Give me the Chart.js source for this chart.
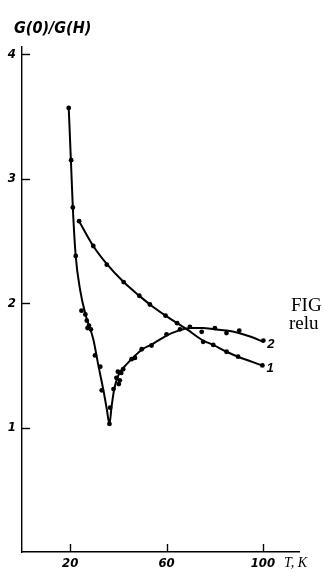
<!DOCTYPE html>
<html>
<head>
<meta charset="utf-8">
<script src="https://cdn.jsdelivr.net/npm/chart.js@4.4.1/dist/chart.umd.min.js"></script>
<style>
html,body{margin:0;padding:0;background:#fff;}
#wrap{position:relative;width:323px;height:577px;}
</style>
</head>
<body>
<div id="wrap"><canvas id="c"></canvas></div>
<script>
// ---- data ----
const xTicks = [20, 60, 100];
const yTicks = [1, 2, 3, 4];
const yTitle = "G(0)/G(H)";
const xTitle = "T, K";
const seriesLabels = ["1", "2"];
const captionLines = ["FIG", "relu"];

// curve 1: smooth line
const curve1T = [23.7, 29.6, 35.0, 42.2, 48.7, 53.1, 59.6, 64.4, 68.5, 75.2, 79.4, 84.9, 89.7, 99.8];
const curve1V = [2.66, 2.46, 2.32, 2.17, 2.06, 1.99, 1.90, 1.84, 1.79, 1.70, 1.665, 1.61, 1.57, 1.50];
// curve 1: measured points
const pts1T = [23.7, 29.6, 35.2, 42.2, 48.7, 53.1, 59.6, 64.4, 75.2, 79.4, 84.9, 89.7, 99.8];
const pts1V = [2.66, 2.46, 2.31, 2.17, 2.06, 1.99, 1.90, 1.84, 1.69, 1.665, 1.61, 1.57, 1.50];

// curve 2: smooth line
const curve2T = [19.4, 20.3, 21.1, 22.3, 24.1, 26.5, 29.6, 31.7, 33.8, 35.2, 36.3, 37.2, 38.3, 40.0, 43.0, 46.5, 50.0, 54.0, 60.0, 65.0, 70.0, 75.0, 80.0, 85.0, 90.0, 95.0, 100.2];
const curve2V = [3.57, 3.15, 2.77, 2.38, 2.11, 1.90, 1.71, 1.50, 1.30, 1.15, 1.03, 1.17, 1.31, 1.42, 1.50, 1.57, 1.63, 1.67, 1.74, 1.78, 1.80, 1.80, 1.79, 1.78, 1.76, 1.73, 1.69];
// curve 2: measured points
const pts2T = [19.4, 20.4, 21.1, 22.3, 24.7, 26.3, 26.9, 27.8, 28.6, 27.2, 30.3, 32.5, 33.1, 36.3, 36.6, 38.0, 39.2, 39.8, 40.6, 41.2, 40.2, 42.0, 45.5, 46.9, 49.7, 53.8, 60.0, 65.6, 69.7, 74.6, 80.1, 84.9, 90.2, 100.2];
const pts2V = [3.57, 3.15, 2.77, 2.38, 1.94, 1.91, 1.86, 1.82, 1.79, 1.80, 1.58, 1.49, 1.30, 1.03, 1.16, 1.31, 1.40, 1.45, 1.38, 1.44, 1.35, 1.47, 1.55, 1.56, 1.63, 1.66, 1.75, 1.79, 1.81, 1.77, 1.80, 1.76, 1.78, 1.70];

const zip = (a, b) => a.map((v, i) => ({x: v, y: b[i]}));

const decor = {
  id: 'decor',
  afterDraw(chart) {
    const ctx = chart.ctx;
    const xs = chart.scales.x, ys = chart.scales.y;
    const ca = chart.chartArea;
    ctx.save();
    ctx.strokeStyle = '#000';
    ctx.lineWidth = 1.4;
    // inward tick marks
    xs.ticks.forEach(t => {
      const px = Math.round(xs.getPixelForValue(t.value)) + 0.5;
      ctx.beginPath(); ctx.moveTo(px, ca.bottom); ctx.lineTo(px, ca.bottom - 8); ctx.stroke();
    });
    ys.ticks.forEach(t => {
      const py = Math.round(ys.getPixelForValue(t.value)) + 0.5;
      ctx.beginPath(); ctx.moveTo(ca.left, py); ctx.lineTo(ca.left + 8, py); ctx.stroke();
    });
    ctx.fillStyle = '#000';
    // y title
    ctx.font = 'italic bold 16px "DejaVu Sans Condensed", "Liberation Sans", sans-serif';
    ctx.textAlign = 'left'; ctx.textBaseline = 'alphabetic';
    ctx.fillText(yTitle, 14, 33);
    // x title
    ctx.font = 'italic 14px "Liberation Serif", serif';
    ctx.fillText(xTitle, 284, 567);
    // series labels near line ends
    ctx.font = 'italic bold 13px "Liberation Sans", sans-serif';
    const e1 = {x: curve1T[curve1T.length - 1], y: curve1V[curve1V.length - 1]};
    const e2 = {x: curve2T[curve2T.length - 1], y: curve2V[curve2V.length - 1]};
    ctx.fillText(seriesLabels[0], xs.getPixelForValue(e1.x) + 4, ys.getPixelForValue(e1.y) + 7);
    ctx.fillText(seriesLabels[1], xs.getPixelForValue(e2.x) + 4, ys.getPixelForValue(e2.y) + 6);
    // caption fragments at right edge
    ctx.font = '19px "Liberation Serif", serif';
    ctx.fillText(captionLines[0], 291, 311);
    ctx.fillText(captionLines[1], 289, 329);
    ctx.restore();
  }
};

new Chart(document.getElementById('c'), {
  type: 'scatter',
  data: {
    datasets: [
      {data: zip(curve1T, curve1V), showLine: true, pointRadius: 0, borderColor: '#000', borderWidth: 2, cubicInterpolationMode: 'monotone'},
      {data: zip(curve2T, curve2V), showLine: true, pointRadius: 0, borderColor: '#000', borderWidth: 2, cubicInterpolationMode: 'monotone'},
      {data: zip(pts1T, pts1V), showLine: false, pointRadius: 2.4, pointBackgroundColor: '#000', pointBorderColor: '#000', pointBorderWidth: 0},
      {data: zip(pts2T, pts2V), showLine: false, pointRadius: 2.4, pointBackgroundColor: '#000', pointBorderColor: '#000', pointBorderWidth: 0}
    ]
  },
  options: {
    responsive: true,
    maintainAspectRatio: false,
    animation: false,
    events: [],
    layout: {padding: {top: 47, right: 24, left: 0, bottom: 0}},
    plugins: {legend: {display: false}, tooltip: {enabled: false}},
    scales: {
      x: {
        type: 'linear', min: 0, max: 115,
        afterBuildTicks: s => { s.ticks = xTicks.map(v => ({value: v})); },
        afterFit: s => { s.height = 25; },
        grid: {display: false, drawTicks: false},
        border: {display: true, color: '#000', width: 1.4},
        ticks: {color: '#000', padding: 4, maxRotation: 0, autoSkip: false,
          font: {family: '"DejaVu Sans Condensed", "Liberation Sans", sans-serif', size: 13, style: 'italic', weight: 'bold'}}
      },
      y: {
        type: 'linear', min: 0, max: 4.06,
        afterBuildTicks: s => { s.ticks = yTicks.map(v => ({value: v})); },
        afterFit: s => { s.width = 22; },
        grid: {display: false, drawTicks: false},
        border: {display: true, color: '#000', width: 1.4},
        ticks: {color: '#000', padding: 6, autoSkip: false,
          font: {family: '"DejaVu Sans Condensed", "Liberation Sans", sans-serif', size: 13, style: 'italic', weight: 'bold'}}
      }
    }
  },
  plugins: [decor]
});
</script>
</body>
</html>
